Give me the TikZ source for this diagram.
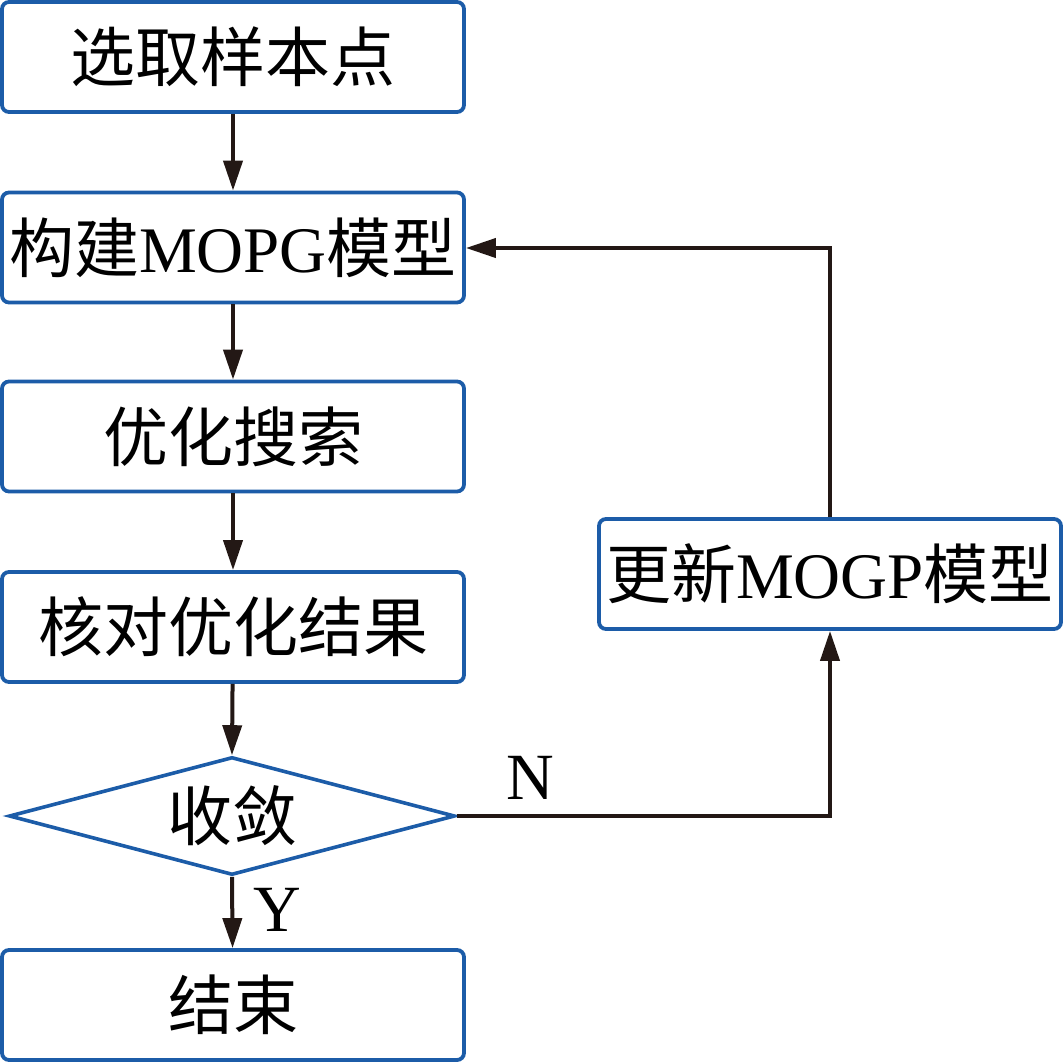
\documentclass[tikz,border=0pt]{standalone}
\usepackage{fontspec}
\setmainfont{Liberation Serif}
\newfontfamily\cjk{Noto Sans CJK SC}
\usetikzlibrary{arrows.meta,shapes.geometric}
\definecolor{boxblue}{RGB}{28,92,168}
\definecolor{arrowc}{RGB}{35,24,21}
\tikzset{
  procbox/.style={draw=boxblue, line width=3.8pt, rounded corners=7pt, fill=white,
    minimum width=462pt, minimum height=110pt, inner sep=0pt, font=\bigtext},
  decbox/.style={draw=boxblue, line width=3.6pt, diamond, aspect=3.78, fill=white,
    minimum width=446pt, minimum height=118pt, inner sep=0pt, font=\bigtext},
  flow/.style={draw=arrowc, line width=4pt, -{Triangle[length=30pt,width=19pt]}},
  lbl/.style={font=\lbltext, text=black, inner sep=0pt}
}
\newcommand{\bigtext}{\fontsize{65}{70}\selectfont}
\newcommand{\lbltext}{\fontsize{66}{70}\selectfont}
\begin{document}
\begin{tikzpicture}[x=1pt,y=-1pt]
\useasboundingbox (0,0) rectangle (1063,1063);
\node[procbox] (b1) at (233,57) {\cjk 选取样本点};
\node[procbox] (b2) at (233,247.5) {\cjk 构建\rmfamily MOPG\cjk 模型};
\node[procbox] (b3) at (233,436.5) {\cjk 优化搜索};
\node[procbox] (b4) at (233,627) {\cjk 核对优化结果};
\node[decbox] (d) at (232,816) {\cjk 收敛};
\node[procbox] (b5) at (233,1005) {\cjk 结束};
\node[procbox] (u) at (830,574) {\cjk 更新\rmfamily MOGP\cjk 模型};
\coordinate (c1) at (830,816);
\coordinate (c2) at (830,248);
\draw[flow] (b1) -- (b2);
\draw[flow] (b2) -- (b3);
\draw[flow] (b3) -- (b4);
\draw[flow] (b4) -- (d.north);
\draw[flow] (d.south) -- (b5);
\draw[flow] (d.east) -- (c1) -- (u.south);
\draw[flow] (u.north) -- (c2) -- (b2.east |- c2);
\node[lbl] (n) at (530,778) {N};
\node[lbl] (y) at (277,910) {Y};
\end{tikzpicture}
\end{document}
